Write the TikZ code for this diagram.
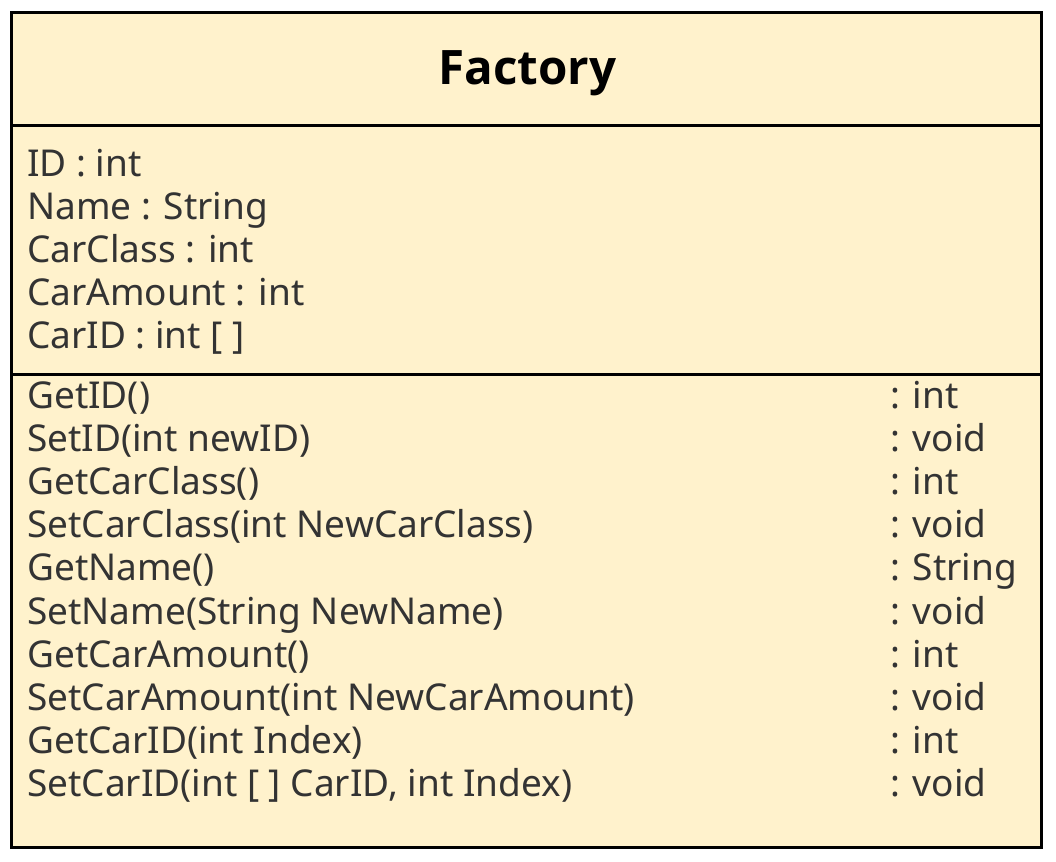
\documentclass[tikz,border=0pt]{standalone}
\usepackage{fontspec}
\setmainfont{Noto Sans}
\newfontfamily\titlefont{Open Sans}
\definecolor{classfill}{HTML}{FFF2CC}
\definecolor{textgray}{HTML}{333333}
\begin{document}
\begin{tikzpicture}[x=1pt,y=-1pt,
  member/.style={anchor=base west,inner sep=0pt,text=textgray,font=\fontsize{37}{43}\selectfont},
  classtitle/.style={anchor=base,inner sep=0pt,font=\titlefont\fontsize{47.5}{56}\selectfont\bfseries},
  frame/.style={line width=3pt,draw=black}]
\useasboundingbox (0,0) rectangle (1056,861);
% class box with its three compartments
\path[fill=classfill] (11.5,12.5) rectangle (1041.5,847.5);
\draw[frame] (11.5,125.5) -- (1041.5,125.5);
\draw[frame] (11.5,374.5) -- (1041.5,374.5);
\draw[frame] (11.5,12.5) rectangle (1041.5,847.5);
% name
\node[classtitle] (title) at (527.5,85) {Factory};
% attributes
\node[member] (a1) at (27,176.5) {ID : int};
\node[member] (a2) at (27,219.5) {Name : String};
\node[member] (a3) at (27,262.5) {CarClass : int};
\node[member] (a4) at (27,305.5) {CarAmount : int};
\node[member] (a5) at (27,348.5) {CarID : int [ ]};
% operations
\foreach \i/\op/\ty in {0/GetID()/int, 1/SetID(int newID)/void, 2/GetCarClass()/int,
  3/SetCarClass(int NewCarClass)/void, 4/GetName()/String, 5/SetName(String NewName)/void,
  6/GetCarAmount()/int, 7/SetCarAmount(int NewCarAmount)/void, 8/GetCarID(int Index)/int,
  9/{SetCarID(int [ ] CarID, int Index)}/void}{
  \node[member] (m\i) at (27,408.5+43.1*\i) {\op};
  \node[member] (t\i) at (890,408.5+43.1*\i) {: \ty};
}
\end{tikzpicture}
\end{document}
